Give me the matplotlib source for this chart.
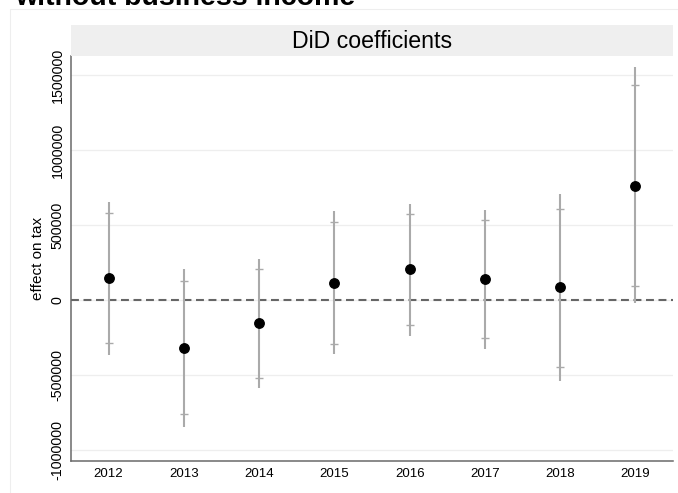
import matplotlib
matplotlib.use("Agg")
import matplotlib.pyplot as plt
from matplotlib.patches import Rectangle

plt.rcParams['font.family'] = ['Liberation Sans', 'DejaVu Sans']

# Event-study coefficients by year with two confidence bands
years = [2012, 2013, 2014, 2015, 2016, 2017, 2018, 2019]
coef = [145000, -318000, -155000, 115000, 204000, 138000, 84000, 760000]
ci_inner_lo = [-285000, -762000, -518000, -291000, -167000, -251000, -444000, 95000]
ci_inner_hi = [578000, 129000, 207000, 522000, 573000, 531000, 609000, 1433000]
ci_outer_lo = [-367000, -845000, -589000, -362000, -238000, -327000, -540000, -22000]
ci_outer_hi = [655000, 205000, 273000, 595000, 640000, 600000, 707000, 1556000]
y_ticks = [-1000000, -500000, 0, 500000, 1000000, 1500000]

W, H = 678, 493
fig = plt.figure(figsize=(W / 100, H / 100), dpi=100)

def fx(px):
    return px / W

def fy(py):
    return 1 - py / H

# faint graph-region outline
fig.add_artist(Rectangle((fx(10), fy(500)), fx(700), fy(9) - fy(500),
                         transform=fig.transFigure, fill=False,
                         edgecolor='#eeeeee', lw=0.8))

# top title, partially outside the canvas
fig.text(fx(15), fy(5), "without business income", fontsize=20.5,
         fontweight='bold', ha='left', va='baseline', color='black')

left, right, top, bottom = 71, 673, 56, 461
ax = fig.add_axes([fx(left), fy(bottom), fx(right - left), fy(top) - fy(bottom)])

# panel header strip
strip_top = 25
fig.add_artist(Rectangle((fx(left), fy(top)), fx(right - left), fy(strip_top) - fy(top),
                         transform=fig.transFigure, facecolor='#efefef',
                         edgecolor='none'))
fig.text(fx((left + right) / 2), fy((strip_top + top) / 2 + 1), "DiD coefficients",
         fontsize=16.7, ha='center', va='center', color='black')

ax.set_xlim(2011.5, 2019.5)
ax.set_ylim(-1073000, 1627000)

ax.set_yticks(y_ticks)
ax.set_yticklabels([str(v) for v in y_ticks], rotation=90, va='center', fontsize=10.3)
ax.set_xticks(years)
ax.set_xticklabels([str(y) for y in years], fontsize=9.5)
ax.tick_params(axis='both', length=0)
ax.tick_params(axis='y', pad=4.5)
ax.tick_params(axis='x', pad=5)
ax.grid(axis='y', color='#eeeeee', lw=0.9)
ax.set_axisbelow(True)

for s in ['top', 'right']:
    ax.spines[s].set_visible(False)
for s in ['left', 'bottom']:
    ax.spines[s].set_color('#6a6a6a')
    ax.spines[s].set_linewidth(1.1)

ax.set_ylabel("effect on tax", fontsize=11, labelpad=4)

# zero reference line
ax.axhline(0, color='#666666', lw=1.5, ls=(0, (3.8, 2.2)), zorder=2)

# outer band as plain lines
ax.vlines(years, ci_outer_lo, ci_outer_hi, color='#aaaaaa', lw=1.5, zorder=3)
# inner band marked with short caps
ax.plot(years, ci_inner_lo, ls='none', marker='_', ms=6, mew=1.0, color='#aaaaaa', zorder=3)
ax.plot(years, ci_inner_hi, ls='none', marker='_', ms=6, mew=1.0, color='#aaaaaa', zorder=3)
# point estimates
ax.plot(years, coef, ls='none', marker='o', ms=6.8, color='black', zorder=4)

fig.savefig("out.png", dpi=100)
